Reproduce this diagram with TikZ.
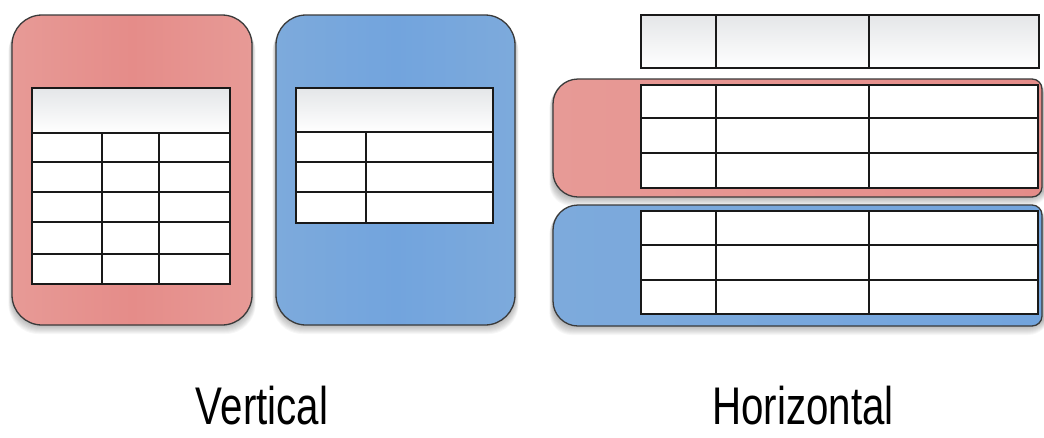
\documentclass[tikz,border=0pt]{standalone}
\usepackage{fontspec}
\usepackage{graphicx}
\setmainfont{Liberation Sans}
\definecolor{cardred}{HTML}{E58C89}
\definecolor{cardredlight}{HTML}{E79A96}
\definecolor{cardblue}{HTML}{72A4DD}
\definecolor{cardbluelight}{HTML}{7DAADC}
\definecolor{cardedge}{HTML}{3A3A3A}
\definecolor{headtop}{HTML}{E4E6E8}
\tikzset{
  cardline/.style={draw=cardedge, line width=1.3pt},
  gridline/.style={draw=black!90, line width=1.4pt},
  headfill/.style={top color=headtop, bottom color=white},
  label/.style={font=\fontsize{53}{56}\selectfont, anchor=base, inner sep=0pt}
}
\begin{document}
\begin{tikzpicture}[x=1pt,y=1pt]
\useasboundingbox (0,0) rectangle (1044,-437);
\fill[white] (0,0) rectangle (1044,-437);
% ---------- soft shadows ----------
\foreach \d in {1,...,9}{
  \fill[black, opacity=0.03, rounded corners=30] (12-0.4*\d,-15-0.8*\d) rectangle (252+0.4*\d,-325-1.0*\d);
  \fill[black, opacity=0.03, rounded corners=30] (276-0.4*\d,-15-0.8*\d) rectangle (515+0.4*\d,-325-1.0*\d);
  \fill[black, opacity=0.03, rounded corners=22] (553-0.4*\d,-79-0.8*\d) rectangle (1050,-197-1.0*\d);
  \fill[black, opacity=0.03, rounded corners=22] (553-0.4*\d,-205-0.8*\d) rectangle (1050,-326-1.0*\d);
}
% ---------- Vertical: red card ----------
\path[cardline, left color=cardredlight, right color=cardredlight, middle color=cardred, rounded corners=30] (12,-15) rectangle (252,-325);
\fill[headfill] (32,-88) rectangle (230,-133);
\fill[white] (32,-133) rectangle (230,-284);
\foreach \y in {133,162,192,222,254} \draw[gridline] (32,-\y) -- (230,-\y);
\foreach \x in {102,159} \draw[gridline] (\x,-133) -- (\x,-284);
\draw[gridline] (32,-88) rectangle (230,-284);
% ---------- Vertical: blue card ----------
\path[cardline, left color=cardbluelight, right color=cardbluelight, middle color=cardblue, rounded corners=30] (276,-15) rectangle (515,-325);
\fill[headfill] (296,-88) rectangle (493,-132);
\fill[white] (296,-132) rectangle (493,-223);
\foreach \y in {132,162,192} \draw[gridline] (296,-\y) -- (493,-\y);
\draw[gridline] (366,-132) -- (366,-223);
\draw[gridline] (296,-88) rectangle (493,-223);
% ---------- Horizontal: header strip ----------
\fill[headfill] (641,-15) rectangle (1039,-68);
\foreach \x in {716,869} \draw[gridline] (\x,-15) -- (\x,-68);
\draw[gridline] (641,-15) rectangle (1039,-68);
% ---------- Horizontal: red band ----------
\path[cardline, left color=cardredlight, right color=cardred]
  (578,-79) -- (1032,-79) arc[start angle=90,end angle=0,radius=10]
  -- (1042,-187) arc[start angle=0,end angle=-90,radius=10]
  -- (578,-197) arc[start angle=270,end angle=180,radius=25]
  -- (553,-104) arc[start angle=180,end angle=90,radius=25] -- cycle;
\fill[white] (641,-85) rectangle (1038,-188);
\foreach \y in {118,153} \draw[gridline] (641,-\y) -- (1038,-\y);
\foreach \x in {716,869} \draw[gridline] (\x,-85) -- (\x,-188);
\draw[gridline] (641,-85) rectangle (1038,-188);
% ---------- Horizontal: blue band ----------
\path[cardline, left color=cardbluelight, right color=cardblue]
  (578,-205) -- (1032,-205) arc[start angle=90,end angle=0,radius=10]
  -- (1042,-316) arc[start angle=0,end angle=-90,radius=10]
  -- (578,-326) arc[start angle=270,end angle=180,radius=25]
  -- (553,-230) arc[start angle=180,end angle=90,radius=25] -- cycle;
\fill[white] (641,-211) rectangle (1038,-314);
\foreach \y in {245,280} \draw[gridline] (641,-\y) -- (1038,-\y);
\foreach \x in {716,869} \draw[gridline] (\x,-211) -- (\x,-314);
\draw[gridline] (641,-211) rectangle (1038,-314);
% ---------- labels ----------
\node[label] (vlabel) at (262,-424) {\scalebox{0.76}[1]{Vertical}};
\node[label] (hlabel) at (803,-424) {\scalebox{0.76}[1]{Horizontal}};
\end{tikzpicture}
\end{document}
